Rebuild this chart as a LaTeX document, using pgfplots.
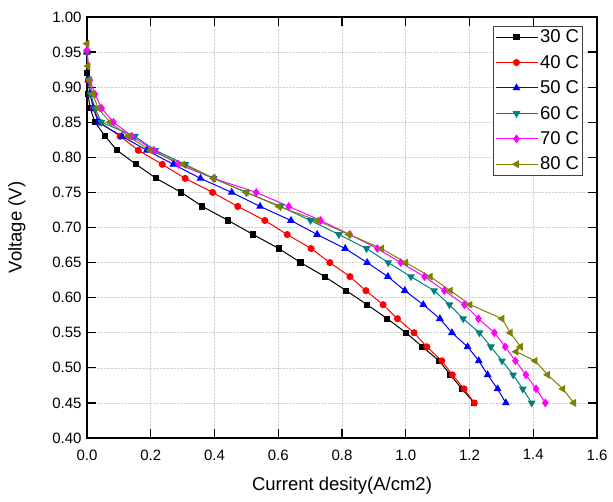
\documentclass[border=0pt]{standalone}
\usepackage{pgfplots}
\pgfplotsset{compat=1.18}
\usepackage{fontspec}
\setmainfont{Liberation Sans}
\definecolor{c30}{RGB}{0,0,0}
\definecolor{c40}{RGB}{255,0,0}
\definecolor{c50}{RGB}{0,0,255}
\definecolor{c60}{RGB}{0,128,128}
\definecolor{c70}{RGB}{255,0,255}
\definecolor{c80}{RGB}{128,128,0}
\begin{document}
\begin{tikzpicture}
\begin{axis}[
  scale only axis, width=510pt, height=421pt,
  xmin=0, xmax=1.6, ymin=0.4, ymax=1.0,
  xtick={0,0.2,0.4,0.6,0.8,1.0,1.2,1.4,1.6},
  ytick={0.40,0.45,0.50,0.55,0.60,0.65,0.70,0.75,0.80,0.85,0.90,0.95,1.00},
  xticklabel style={yshift=-8pt,/pgf/number format/.cd,fixed,fixed zerofill,precision=1},
  yticklabel style={xshift=-2pt,/pgf/number format/.cd,fixed,fixed zerofill,precision=2},
  /pgf/number format/assume math mode=true,
  tick label style={font=\fontsize{15}{15}\selectfont},
  label style={font=\fontsize{18.5}{18.5}\selectfont},
  xlabel style={yshift=-10pt},
  ylabel style={yshift=20pt},
  tick align=inside, major tick length=9pt,
  tick style={line width=1.3pt, black},
  axis line style={line width=1.6pt},
  grid=major,
  major grid style={densely dotted, gray!35, line width=0.6pt},
  xlabel={Current desity(A/cm2)},
  ylabel={Voltage (V)},
  legend style={at={(0.9725,0.9786)}, anchor=north east, draw=black!75, line width=0.8pt,
    font=\fontsize{18.5}{18.5}\selectfont, fill=white, inner sep=1.5pt,
    row sep=7pt},
  legend cell align=left,
  legend image code/.code={\draw[mark repeat=2,mark phase=2] plot coordinates {(0pt,0pt)(21pt,0pt)(42pt,0pt)};},
  every axis plot/.append style={line width=1pt},
]
\addplot[c30, mark=square*, mark size=2.6pt, mark options={fill=c30}] coordinates {
(0,0.92)(0.003,0.89)(0.01,0.87)(0.025,0.85)(0.057,0.83)(0.094,0.81)(0.154,0.79)(0.217,0.77)
(0.296,0.75)(0.362,0.73)(0.443,0.71)(0.521,0.69)(0.602,0.67)(0.670,0.65)(0.746,0.63)(0.813,0.61)
(0.879,0.59)(0.942,0.57)(1.001,0.55)(1.052,0.53)(1.105,0.51)(1.140,0.49)(1.176,0.47)(1.215,0.45)};
\addlegendentry{30 C}
\addplot[c40, mark=*, mark size=3pt, mark options={fill=c40}] coordinates {
(0,0.95)(0.004,0.91)(0.01,0.89)(0.02,0.87)(0.04,0.85)(0.104,0.83)(0.161,0.81)(0.236,0.79)
(0.308,0.77)(0.394,0.75)(0.473,0.73)(0.558,0.71)(0.628,0.69)(0.703,0.67)(0.762,0.65)(0.825,0.63)
(0.875,0.61)(0.929,0.59)(0.974,0.57)(1.026,0.55)(1.066,0.53)(1.113,0.51)(1.146,0.49)(1.183,0.47)(1.215,0.45)};
\addlegendentry{40 C}
\addplot[c50, mark=triangle*, mark size=3.6pt, mark options={fill=c50}] coordinates {
(0,0.95)(0.004,0.91)(0.01,0.89)(0.02,0.87)(0.035,0.85)(0.11,0.83)(0.188,0.81)(0.271,0.79)
(0.356,0.77)(0.454,0.75)(0.543,0.73)(0.640,0.71)(0.722,0.69)(0.810,0.67)(0.879,0.65)(0.944,0.63)
(0.997,0.61)(1.055,0.59)(1.107,0.57)(1.145,0.55)(1.194,0.53)(1.229,0.51)(1.257,0.49)(1.288,0.47)(1.314,0.45)};
\addlegendentry{50 C}
\addplot[c60, mark=triangle*, mark size=3.6pt, mark options={fill=c60, rotate=180}] coordinates {
(0,0.95)(0.005,0.91)(0.012,0.89)(0.025,0.87)(0.045,0.85)(0.15,0.83)(0.214,0.81)(0.308,0.79)
(0.397,0.77)(0.50,0.75)(0.607,0.73)(0.701,0.71)(0.790,0.69)(0.877,0.67)(0.945,0.65)(1.016,0.63)
(1.089,0.61)(1.137,0.59)(1.180,0.57)(1.231,0.55)(1.267,0.53)(1.302,0.51)(1.337,0.49)(1.367,0.47)(1.395,0.45)};
\addlegendentry{60 C}
\addplot[c70, mark=diamond*, mark size=3.6pt, mark options={fill=c70}] coordinates {
(0,0.953)(0.009,0.91)(0.025,0.89)(0.046,0.87)(0.083,0.85)(0.141,0.83)(0.21,0.81)(0.287,0.79)
(0.397,0.77)(0.531,0.75)(0.633,0.73)(0.733,0.71)(0.824,0.69)(0.911,0.67)(0.984,0.65)(1.059,0.63)
(1.121,0.61)(1.184,0.59)(1.228,0.57)(1.278,0.55)(1.312,0.53)(1.344,0.51)(1.377,0.49)(1.409,0.47)(1.438,0.45)};
\addlegendentry{70 C}
\addplot[c80, mark=triangle*, mark size=3.6pt, mark options={fill=c80, rotate=90}] coordinates {
(0,0.962)(0.003,0.93)(0.008,0.91)(0.018,0.89)(0.035,0.87)(0.072,0.85)(0.13,0.83)(0.198,0.81)
(0.301,0.79)(0.397,0.77)(0.50,0.75)(0.602,0.73)(0.722,0.71)(0.822,0.69)(0.924,0.67)(1.0,0.65)
(1.077,0.63)(1.140,0.61)(1.202,0.59)(1.302,0.57)(1.328,0.55)(1.360,0.53)(1.346,0.523)(1.406,0.51)
(1.445,0.49)(1.493,0.47)(1.527,0.45)};
\addlegendentry{80 C}
\end{axis}
\path (current axis.south west) ++(-87pt,-64pt) rectangle ++(613pt,502pt);
\end{tikzpicture}
\end{document}
